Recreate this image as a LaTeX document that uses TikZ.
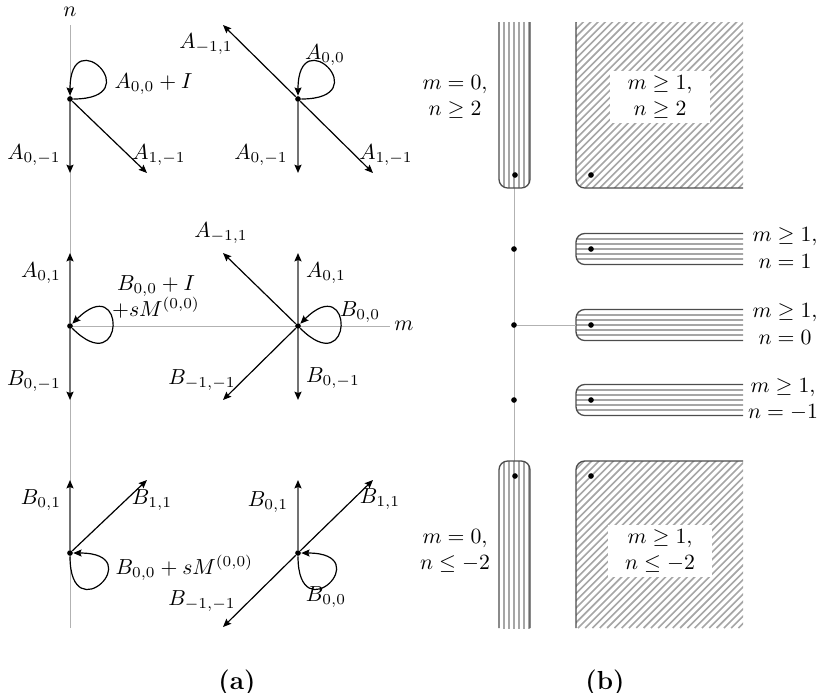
\documentclass[tikz,border=0pt]{standalone}
\usepackage{amsmath, amssymb}
\usetikzlibrary{arrows.meta}

\begin{document}
\begin{tikzpicture}[
    x=0.46pt, y=-0.46pt,
    vtx/.style={circle, fill, inner sep=0pt, minimum size=2.6pt},
    axis/.style={draw=black!30, line width=0.45pt},
    arr/.style={-{Stealth[length=3.8pt, width=3.2pt, inset=0.6pt, color=black]}, line width=0.55pt},
    varr/.style={arr, draw=black!55, line width=0.95pt},
    lbl/.style={inner sep=1pt},
    rim/.style={draw=black!70, line width=0.6pt, rounded corners=4pt},
    hatch/.style={draw=black!35, line width=0.75pt},
    tag/.style={align=center, inner sep=1pt},
    tagbox/.style={tag, fill=white, inner xsep=8pt, inner ysep=2pt},
    captxt/.style={font=\bfseries\fontsize{12}{14}\selectfont}
]
\useasboundingbox (0,0) rectangle (823,692);

% (a) the six neighbourhoods
\draw[axis] (70,25) -- (70,628);
\draw[axis] (70,326) -- (390,326);
\node (nlab) at (70,12) {$n$};
\node (mlab) at (404,326) {$m$};

\node[vtx] (TL) at (70,99) {};
\node[vtx] (TR) at (298,99) {};
\node[vtx] (ML) at (70,326) {};
\node[vtx] (MR) at (298,326) {};
\node[vtx] (BL) at (70,553) {};
\node[vtx] (BR) at (298,553) {};

\coordinate (TLd) at (70,173);
\coordinate (TLr) at (147,173);
\coordinate (TRu) at (223,25);
\coordinate (TRd) at (298,173);
\coordinate (TRr) at (373,173);
\coordinate (MLu) at (70,253);
\coordinate (MLd) at (70,400);
\coordinate (MRu) at (298,253);
\coordinate (MRd) at (298,400);
\coordinate (MRul) at (223,253);
\coordinate (MRdl) at (223,400);
\coordinate (BLu) at (70,480);
\coordinate (BLr) at (147,480);
\coordinate (BRu) at (298,480);
\coordinate (BRr) at (373,480);
\coordinate (BRdl) at (223,627);

\foreach \x/\y in {TL/TLd, TR/TRd, ML/MLu, ML/MLd, MR/MRu, MR/MRd, BL/BLu, BR/BRu}
  \draw[varr] (\x) -- (\y);
\foreach \x/\y in {TL/TLr, TR/TRu, TR/TRr, MR/MRul, MR/MRdl, BL/BLr, BR/BRr, BR/BRdl}
  \draw[arr] (\x) -- (\y);

% self loops
\foreach \v in {TL, TR}
  \draw[arr] (\v) .. controls +(80,0) and +(0,-80) .. (\v);
\foreach \v in {ML, MR}
  \draw[arr] (\v) .. controls +(56,56) and +(56,-56) .. (\v);
\foreach \v in {BL, BR}
  \draw[arr] (\v) .. controls +(0,80) and +(80,0) .. (\v);

\node[lbl, anchor=west] (lTL0) at (112,84) {$A_{0,0}+I$};
\node[lbl] (lTLd) at (34,155) {$A_{0,-1}$};
\node[lbl] (lTLr) at (159,155) {$A_{1,-1}$};
\node[lbl] (lTRu) at (206,44) {$A_{-1,1}$};
\node[lbl] (lTR0) at (325,55) {$A_{0,0}$};
\node[lbl] (lTRd) at (261,155) {$A_{0,-1}$};
\node[lbl] (lTRr) at (386,155) {$A_{1,-1}$};
\node[lbl] (lMLu) at (41,273) {$A_{0,1}$};
\node[lbl, align=center] (lML0) at (156,297) {$B_{0,0}+I$\\$+sM^{(0,0)}$};
\node[lbl] (lMLd) at (34,381) {$B_{0,-1}$};
\node[lbl] (lMRul) at (221,233) {$A_{-1,1}$};
\node[lbl] (lMRu) at (326,273) {$A_{0,1}$};
\node[lbl] (lMR0) at (360,312) {$B_{0,0}$};
\node[lbl] (lMRd) at (333,378) {$B_{0,-1}$};
\node[lbl] (lMRdl) at (202,380) {$B_{-1,-1}$};
\node[lbl] (lBLu) at (41,500) {$B_{0,1}$};
\node[lbl] (lBLr) at (152,500) {$B_{1,1}$};
\node[lbl, anchor=west] (lBL0) at (113,568) {$B_{0,0}+sM^{(0,0)}$};
\node[lbl] (lBRu) at (268,502) {$B_{0,1}$};
\node[lbl] (lBRr) at (380,499) {$B_{1,1}$};
\node[lbl] (lBR0) at (326,597) {$B_{0,0}$};
\node[lbl] (lBRdl) at (202,601) {$B_{-1,-1}$};

% (b) the regions
\draw[axis] (514,188) -- (514,461);
\coordinate (e0) at (576,325);

% m = 0 strips
\begin{scope}
  \clip[rounded corners=4pt] (499,-50) rectangle (530,188);
  \clip (0,22) rectangle (823,700);
  \foreach \x in {504,509,...,529} \draw[hatch] (\x,0) -- (\x,200);
\end{scope}
\draw[rim] (499,22) -- (499,188) -- (530,188) -- (530,22);
\begin{scope}
  \clip[rounded corners=4pt] (499,461) rectangle (530,800);
  \clip (0,0) rectangle (823,628);
  \foreach \x in {504,509,...,529} \draw[hatch] (\x,450) -- (\x,640);
\end{scope}
\draw[rim] (499,628) -- (499,461) -- (530,461) -- (530,628);

% m >= 1 quarter planes
\begin{scope}
  \clip[rounded corners=4pt] (576,-50) rectangle (900,188);
  \clip (0,22) rectangle (743,700);
  \foreach \k in {0,...,46} \draw[hatch] (410+\k*7.3,188) -- ++(220,-220);
\end{scope}
\draw[rim] (576,22) -- (576,188) -- (743,188);
\begin{scope}
  \clip[rounded corners=4pt] (576,461) rectangle (900,800);
  \clip (0,0) rectangle (743,628);
  \foreach \k in {0,...,46} \draw[hatch] (410+\k*7.3,628) -- ++(220,-220);
\end{scope}
\draw[rim] (576,628) -- (576,461) -- (743,461);

% m >= 1 rows
\foreach \c in {249,325,400} {
  \begin{scope}
    \clip[rounded corners=4pt] (576,\c-15.5) rectangle (900,\c+15.5);
    \clip (0,0) rectangle (743,700);
    \foreach \d in {-10,-5,...,10} \draw[hatch] (560,\c+\d) -- (760,\c+\d);
  \end{scope}
  \draw[rim] (743,\c-15.5) -- (576,\c-15.5) -- (576,\c+15.5) -- (743,\c+15.5);
}

\foreach \c/\n in {249/1, 325/0, 400/m1} {
  \node[vtx] (ax\n) at (514,\c) {};
  \node[vtx] (st\n) at (591,\c) {};
}
\draw[axis] (ax0) -- (e0);
\node[vtx] (vtop) at (515,175) {};
\node[vtx] (qtop) at (591,175) {};
\node[vtx] (vbot) at (515,476) {};
\node[vtx] (qbot) at (591,476) {};

\node[tag] (tagTL) at (455,97) {$m=0,$\\$n\geq 2$};
\node[tagbox] (tagTR) at (660,97) {$m\geq 1,$\\$n\geq 2$};
\node[tag] (tag1) at (785,248) {$m\geq 1,$\\$n=1$};
\node[tag] (tag0) at (785,324) {$m\geq 1,$\\$n=0$};
\node[tag] (tagm1) at (783,399) {$m\geq 1,$\\$n=-1$};
\node[tag] (tagBL) at (455,551) {$m=0,$\\$n\leq -2$};
\node[tagbox] (tagBR) at (660,551) {$m\geq 1,$\\$n\leq -2$};

\node[captxt] (capa) at (237,683) {(a)};
\node[captxt] (capb) at (605,683) {(b)};
\end{tikzpicture}
\end{document}
